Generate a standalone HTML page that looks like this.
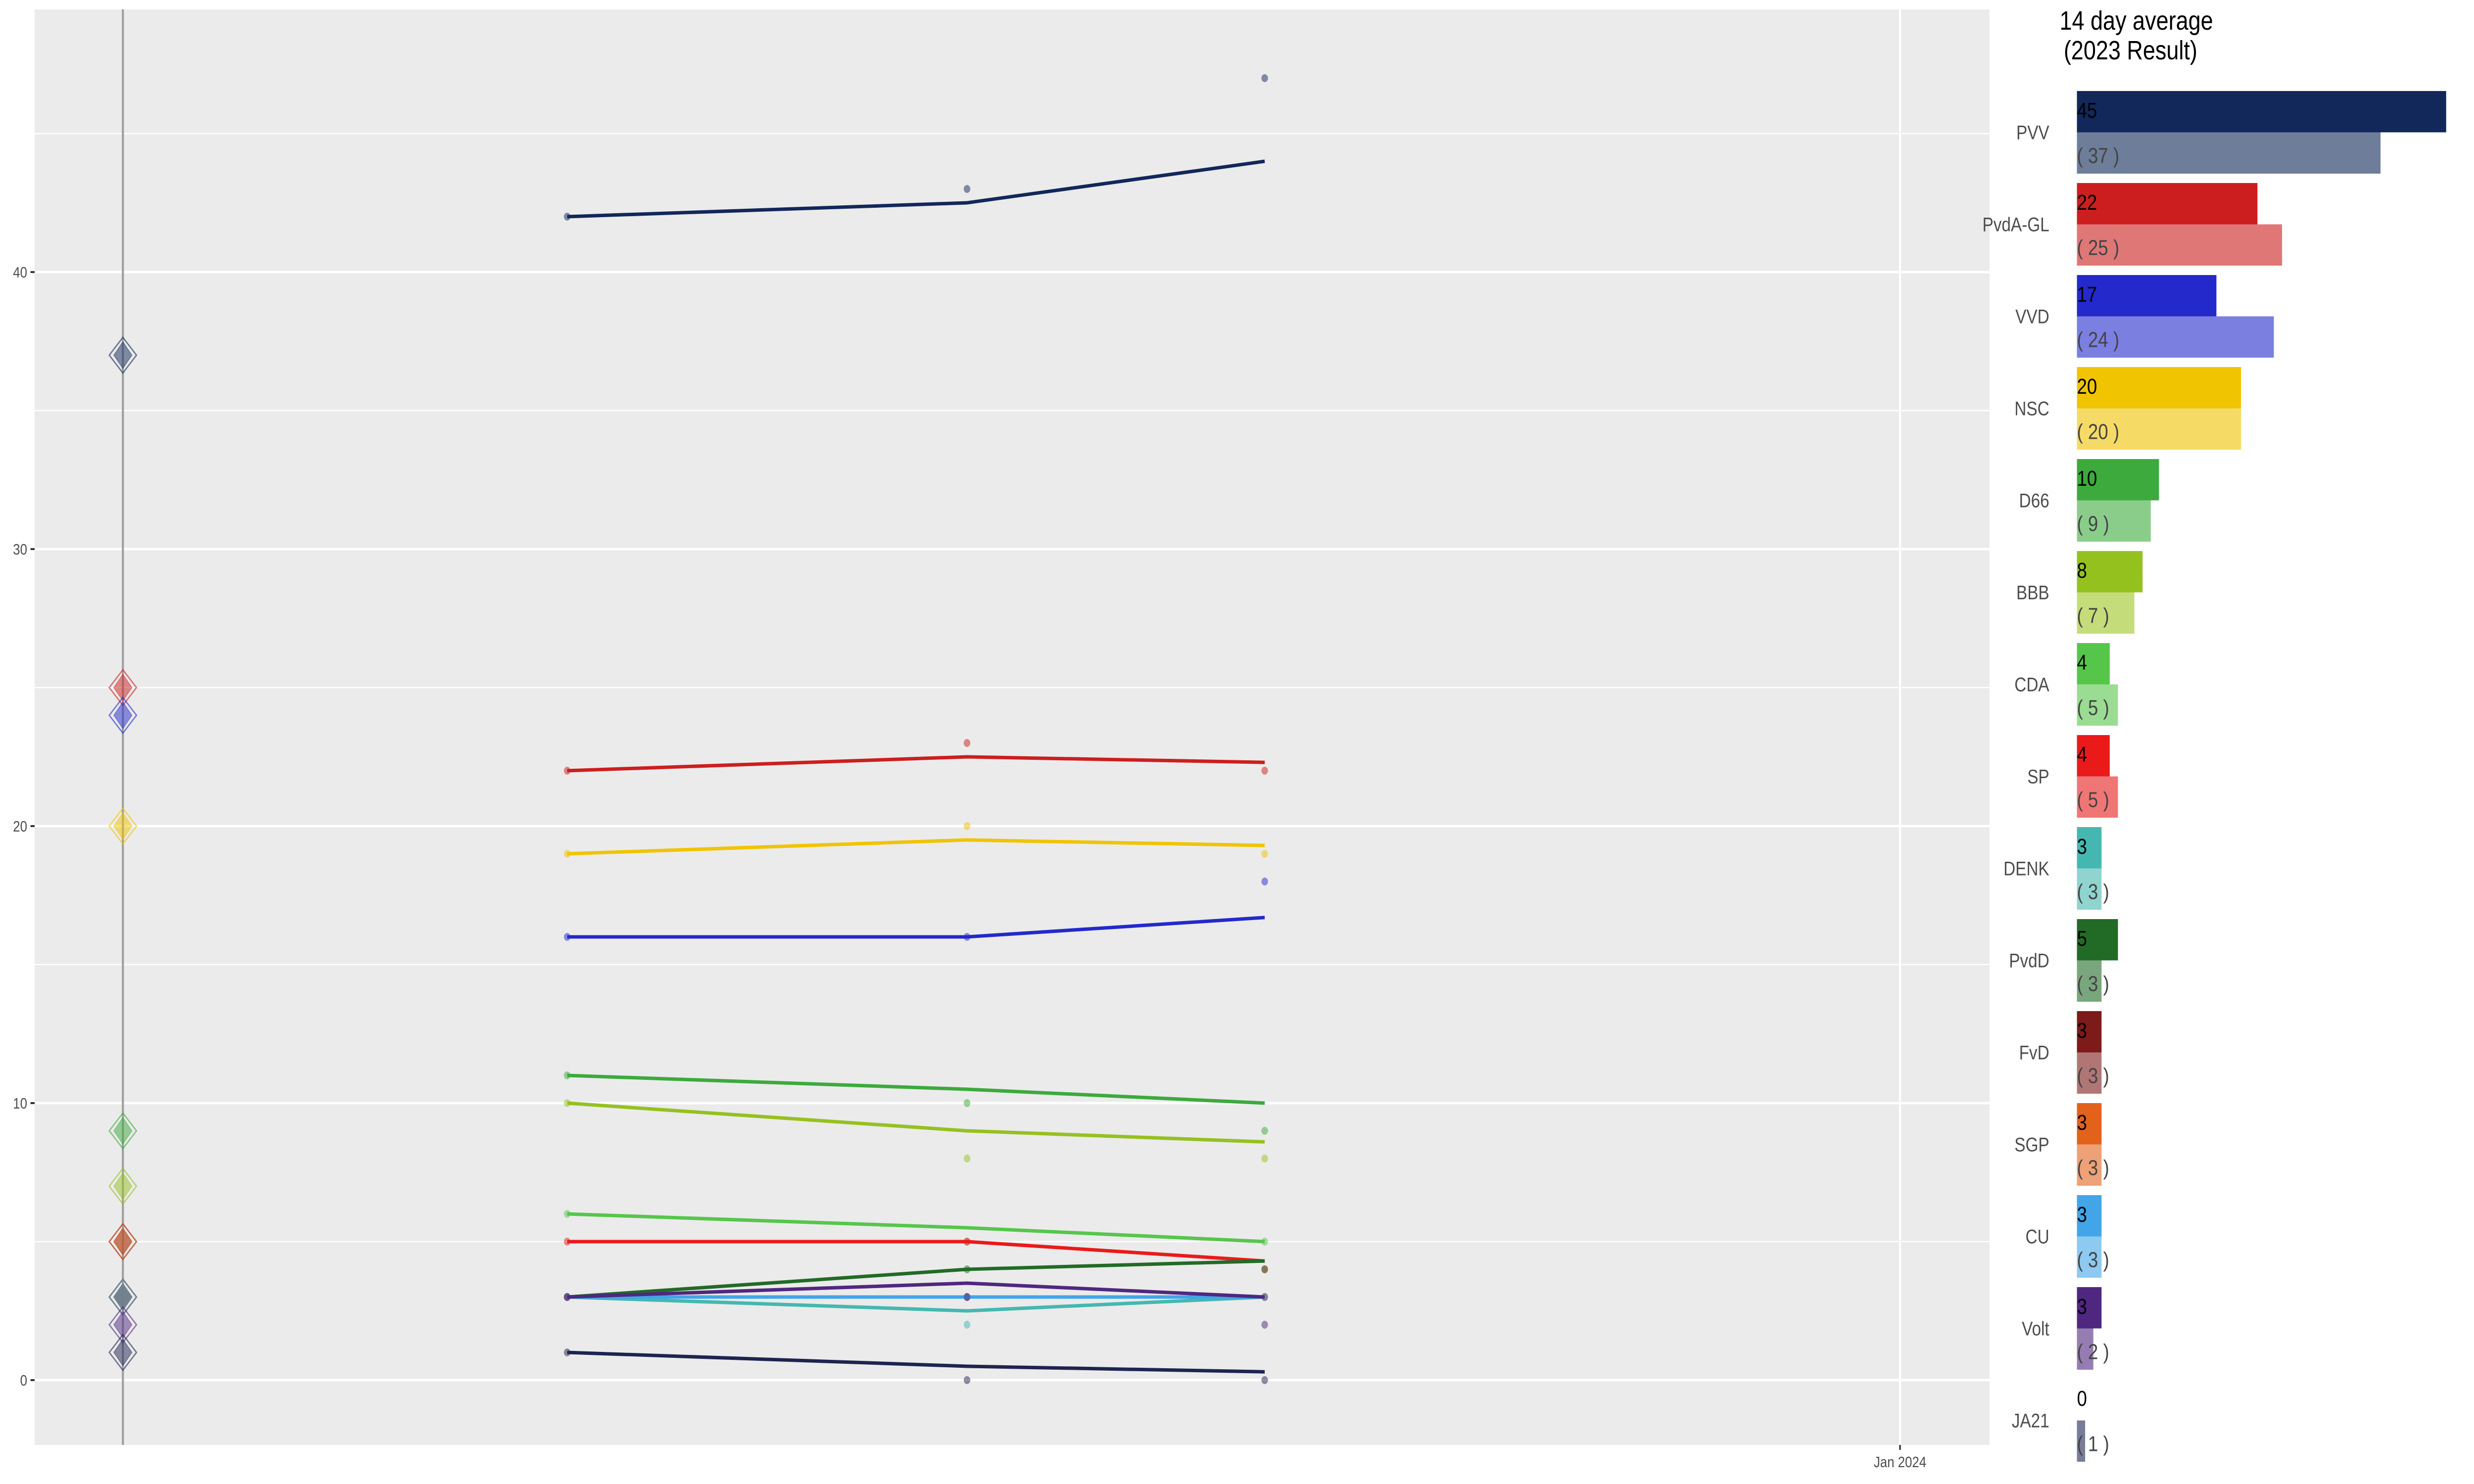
<!DOCTYPE html>
<html><head><meta charset="utf-8"><style>
html,body{margin:0;padding:0;background:#fff;width:6000px;height:3000px;overflow:hidden;}
svg{display:block;font-family:"Liberation Sans",Arial,sans-serif;width:100vw;height:100vh;}
</style></head><body>
<svg id="chart" viewBox="0 0 6000 3000" preserveAspectRatio="none" xmlns="http://www.w3.org/2000/svg"></svg>
<script>
const parties=["PVV","PvdA-GL","VVD","NSC","D66","BBB","CDA","SP","DENK","PvdD","FvD","SGP","CU","Volt","JA21"];
const dark=["#12275A","#CC1E1E","#2329CB","#F0C400","#3CAA3C","#95C11F","#56C64B","#EA1A1A","#44B8B0","#226B26","#7D1A1A","#E2621B","#41A5E8","#4F2780","#1E2450"];
const light=["#6E7D99","#DF7777","#7B7FE0","#F5DA66","#8ACD8A","#C4DC79","#9ADC93","#F07676","#8FD4CF","#7AA67D","#B07676","#EEA176","#8DC9F1","#957DB3","#787C96"];
const avg14=[45,22,17,20,10,8,4,4,3,5,3,3,3,3,0];
const result2023=[37,25,24,20,9,7,5,5,3,3,3,3,3,2,1];
// poll dates: days after election (22 Nov 2023)
const pollDays=[10,19,25.7];
const trend=[[42,42.5,44],[22,22.5,22.3],[16,16,16.7],[19,19.5,19.3],[11,10.5,10],[10,9,8.6],[6,5.5,5],[5,5,4.3],[3,2.5,3],[3,4,4.3],[3,3,3],[3,3,3],[3,3,3],[3,3.5,3],[1,0.5,0.3]];
const polls=[[42,43,47],[22,23,22],[16,16,18],[19,20,19],[11,10,9],[10,8,8],[6,5,5],[5,5,4],[3,2,3],[3,4,4],[3,3,3],[3,3,3],[3,3,3],[3,3,2],[1,0,0]];
const yTicks=[0,10,20,30,40];
const yMinor=[5,15,25,35,45];
const xTickDays=[40];const xTickLabels=["Jan 2024"];

const NS="http://www.w3.org/2000/svg";
const svg=document.getElementById("chart");
function mk(tag,attrs,parent){const e=document.createElementNS(NS,tag);for(const k in attrs)e.setAttribute(k,attrs[k]);(parent||svg).appendChild(e);return e;}
const P={l:84,r:4825,t:19,b:2921};
const xS=d=>298+d*107.75;
const yS=v=>2790-v*56;

const panel=mk("rect",{x:P.l,y:P.t,width:P.r-P.l,height:P.b-P.t,fill:"#EBEBEB"});


yMinor.forEach(v=>{const g=mk("line",{x1:P.l,x2:P.r,y1:yS(v),y2:yS(v),stroke:"#fff","stroke-width":2.5});

});
yTicks.forEach(v=>{const g=mk("line",{x1:P.l,x2:P.r,y1:yS(v),y2:yS(v),stroke:"#fff","stroke-width":5});


const tk=mk("line",{x1:P.l-10,x2:P.l,y1:yS(v),y2:yS(v),stroke:"#333","stroke-width":4});


const t=mk("text",{x:P.l-18,y:yS(v)+11,"text-anchor":"end","font-size":31,fill:"#4D4D4D"});t.textContent=v;

});
xTickDays.forEach((d,i)=>{const g=mk("line",{x1:xS(d),x2:xS(d),y1:P.t,y2:P.b,stroke:"#fff","stroke-width":5});


const tk=mk("line",{x1:xS(d),x2:xS(d),y1:P.b,y2:P.b+10,stroke:"#333","stroke-width":4});


const t=mk("text",{x:xS(d),y:P.b+45,"text-anchor":"middle","font-size":31,fill:"#4D4D4D"});t.textContent=xTickLabels[i];

});

const el=mk("line",{x1:xS(0),x2:xS(0),y1:P.t,y2:P.b,stroke:"#9E9E9E","stroke-width":5});



parties.forEach((p,i)=>{const cx=xS(0),cy=yS(result2023[i]);
const o=mk("polygon",{points:`${cx},${cy-36} ${cx+33},${cy} ${cx},${cy+36} ${cx-33},${cy}`,fill:"none",stroke:dark[i],"stroke-width":3,opacity:0.6});


const f=mk("polygon",{points:`${cx},${cy-27} ${cx+22},${cy} ${cx},${cy+27} ${cx-22},${cy}`,fill:dark[i],"fill-opacity":0.5,stroke:dark[i],"stroke-opacity":0.4,"stroke-width":2});

});

parties.forEach((p,i)=>{
polls[i].forEach((v,j)=>{const c=mk("circle",{cx:xS(pollDays[j]),cy:yS(v),r:8,fill:dark[i],opacity:0.5});

});
const pts=trend[i].map((v,j)=>xS(pollDays[j])+","+yS(v)).join(" ");
const l=mk("polyline",{points:pts,fill:"none",stroke:dark[i],"stroke-width":7,"stroke-linejoin":"round"});

});

const bx0=5037,bu=19.9,g0=184,pitch=186,bh=83.5;
const tt=mk("text",{x:4995,y:60,"font-size":54,fill:"#000"});tt.textContent="14 day average";


const tt2=mk("text",{x:5005,y:120,"font-size":54,fill:"#000"});tt2.textContent="(2023 Result)";


parties.forEach((p,i)=>{const top=g0+i*pitch;
const lb=mk("text",{x:4970,y:top+bh+14,"text-anchor":"end","font-size":40,fill:"#4D4D4D"});lb.textContent=p;


const b1=mk("rect",{x:bx0,y:top,width:avg14[i]*bu,height:bh,fill:dark[i]});


const b2=mk("rect",{x:bx0,y:top+bh,width:result2023[i]*bu,height:bh,fill:light[i]});


const t1=mk("text",{x:bx0,y:top+54,"font-size":44,fill:"#000"});t1.textContent=avg14[i];


const t2=mk("text",{x:bx0,y:top+bh+62,"font-size":44,fill:"#444"});t2.textContent="( "+result2023[i]+" )";

});
</script>
</body></html>
